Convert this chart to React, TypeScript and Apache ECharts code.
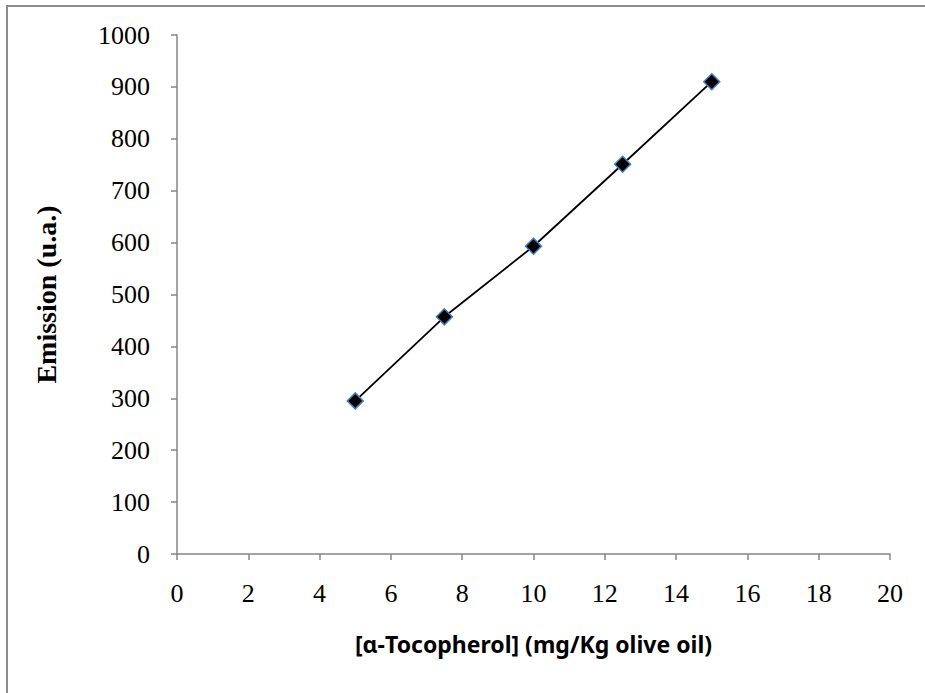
import React, { useEffect, useRef } from "react";
import * as echarts from "echarts";

const concentrations = [5, 7.5, 10, 12.5, 15];
const emissions = [295, 457, 593, 751, 910];
const xTitle = "[α-Tocopherol] (mg/Kg olive oil)";
const yTitle = "Emission (u.a.)";

export default function App() {
  const ref = useRef<HTMLDivElement>(null);
  useEffect(() => {
    if (!ref.current) return;
    const chart = echarts.init(ref.current, undefined, { renderer: "svg" });
    const axisLine = { show: true, lineStyle: { color: "#868686", width: 1.5 } };
    const axisTick = { show: true, length: 6, lineStyle: { color: "#868686", width: 1.5 } };
    chart.setOption({
      animation: false,
      backgroundColor: "#ffffff",
      graphic: [
        {
          type: "rect",
          shape: { x: 7, y: 6, width: 940, height: 720 },
          style: { fill: "none", stroke: "#8c8c8c", lineWidth: 2 },
          silent: true,
        },
      ],
      grid: { left: 177, right: 35, top: 35, bottom: 139, containLabel: false },
      xAxis: {
        type: "value",
        min: 0,
        max: 20,
        interval: 2,
        name: xTitle,
        nameLocation: "middle",
        nameGap: 78,
        nameTextStyle: { fontFamily: "Noto Sans", fontWeight: "bold", fontSize: 23, color: "#000" },
        axisLine,
        axisTick,
        axisLabel: { fontFamily: "Liberation Serif", fontSize: 26, color: "#000", margin: 26 },
        splitLine: { show: false },
      },
      yAxis: {
        type: "value",
        min: 0,
        max: 1000,
        interval: 100,
        name: yTitle,
        nameLocation: "middle",
        nameGap: 117,
        nameRotate: 90,
        nameTextStyle: { fontFamily: "Liberation Serif", fontWeight: "bold", fontSize: 28, color: "#000" },
        axisLine,
        axisTick,
        axisLabel: {
          fontFamily: "Liberation Serif",
          fontSize: 26,
          color: "#000",
          margin: 27,
          formatter: (v: number) => String(v),
        },
        splitLine: { show: false },
      },
      series: [
        {
          type: "line",
          data: concentrations.map((c, i) => [c, emissions[i]]),
          symbol: "diamond",
          symbolSize: 16,
          lineStyle: { color: "#000", width: 1.8 },
          itemStyle: { color: "#000", borderColor: "#4a7ebb", borderWidth: 1.5 },
          z: 3,
        },
      ],
    });
    return () => chart.dispose();
  }, []);
  return (
    <div
      ref={ref}
      style={{ position: "absolute", left: 0, top: 0, width: 925, height: 693 }}
    />
  );
}
